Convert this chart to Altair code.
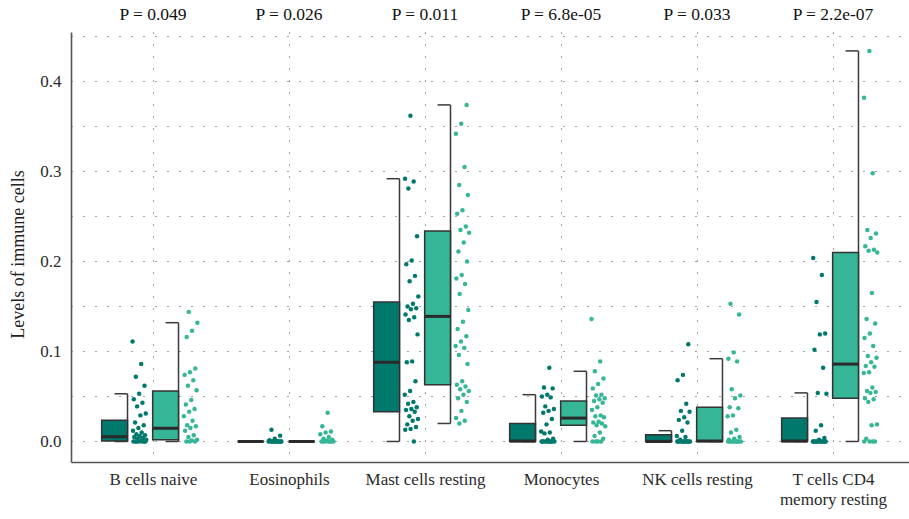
import altair as alt
import pandas as pd

categories = ["B cells naive", "Eosinophils", "Mast cells resting", "Monocytes",
              "NK cells resting", "T cells CD4 memory resting"]
label_lines = [["B cells naive"], ["Eosinophils"], ["Mast cells resting"], ["Monocytes"],
               ["NK cells resting"], ["T cells CD4", "memory resting"]]
p_labels = ["P = 0.049", "P = 0.026", "P = 0.011", "P = 6.8e-05", "P = 0.033", "P = 2.2e-07"]
groups = ["Low", "High"]
colors = ["#00786c", "#35b797"]

# box statistics
low_q1 = [0.0005, 0.0, 0.033, 0.0, 0.0, 0.0]
low_med = [0.0053, 0.0, 0.088, 0.0005, 0.0, 0.0005]
low_q3 = [0.0235, 0.0, 0.155, 0.020, 0.0076, 0.026]
low_wlo = [0.0, 0.0, 0.0, 0.0, 0.0, 0.0]
low_whi = [0.053, 0.0, 0.292, 0.052, 0.012, 0.054]

high_q1 = [0.002, 0.0, 0.063, 0.018, 0.0, 0.048]
high_med = [0.0147, 0.0, 0.139, 0.026, 0.0005, 0.086]
high_q3 = [0.056, 0.0, 0.234, 0.045, 0.038, 0.210]
high_wlo = [0.0, 0.0, 0.020, 0.0, 0.0, 0.0]
high_whi = [0.132, 0.0, 0.374, 0.078, 0.092, 0.434]

# individual observations
low_points = [
    [0.111, 0.086, 0.072, 0.062, 0.053, 0.047, 0.043, 0.039, 0.031, 0.029, 0.021, 0.018,
     0.015, 0.012, 0.010, 0.008, 0.007, 0.006, 0.005, 0.004, 0.003, 0.002, 0.001,
     0, 0, 0, 0, 0, 0, 0],
    [0.013, 0.0065, 0.003, 0.0015, 0, 0, 0, 0, 0, 0, 0, 0, 0, 0, 0, 0],
    [0.362, 0.292, 0.289, 0.281, 0.228, 0.201, 0.197, 0.184, 0.178, 0.161, 0.153, 0.150,
     0.148, 0.147, 0.141, 0.138, 0.135, 0.119, 0.089, 0.088, 0.067, 0.056, 0.052, 0.044,
     0.042, 0.038, 0.036, 0.035, 0.033, 0.028, 0.025, 0.023, 0.019, 0.016, 0.014, 0.013, 0.0],
    [0.082, 0.060, 0.059, 0.052, 0.050, 0.049, 0.039, 0.036, 0.034, 0.032, 0.025, 0.019,
     0.011, 0.010, 0.009, 0.003, 0.002, 0, 0, 0, 0, 0, 0, 0, 0, 0, 0],
    [0.108, 0.074, 0.068, 0.042, 0.034, 0.033, 0.027, 0.024, 0.021, 0.012, 0.006, 0.005,
     0.002, 0, 0, 0, 0, 0, 0, 0, 0, 0, 0, 0, 0],
    [0.204, 0.185, 0.155, 0.120, 0.119, 0.102, 0.082, 0.054, 0.053, 0.018, 0.012, 0.004,
     0.002, 0, 0, 0, 0, 0, 0, 0, 0, 0, 0, 0, 0],
]
high_points = [
    [0.144, 0.132, 0.123, 0.116, 0.081, 0.077, 0.074, 0.068, 0.062, 0.057, 0.046, 0.041,
     0.036, 0.033, 0.028, 0.023, 0.018, 0.017, 0.015, 0.012, 0.007, 0.005, 0.002, 0.001,
     0, 0, 0],
    [0.032, 0.017, 0.011, 0.010, 0.008, 0.005, 0.003, 0.002, 0.001, 0, 0, 0, 0, 0, 0, 0],
    [0.374, 0.353, 0.342, 0.305, 0.285, 0.274, 0.257, 0.253, 0.239, 0.235, 0.232, 0.221,
     0.211, 0.200, 0.185, 0.181, 0.175, 0.164, 0.146, 0.133, 0.125, 0.117, 0.111, 0.106,
     0.104, 0.096, 0.086, 0.067, 0.063, 0.061, 0.058, 0.056, 0.052, 0.048, 0.044, 0.034,
     0.026, 0.023, 0.020],
    [0.136, 0.089, 0.078, 0.070, 0.064, 0.059, 0.052, 0.051, 0.048, 0.047, 0.045, 0.043,
     0.038, 0.035, 0.029, 0.028, 0.027, 0.022, 0.021, 0.020, 0.018, 0.017, 0.010, 0.006,
     0.003, 0, 0, 0, 0],
    [0.153, 0.141, 0.099, 0.092, 0.089, 0.058, 0.051, 0.048, 0.038, 0.037, 0.029, 0.028,
     0.013, 0.010, 0.005, 0.003, 0.002, 0, 0, 0, 0, 0, 0, 0, 0, 0],
    [0.434, 0.382, 0.298, 0.235, 0.231, 0.226, 0.217, 0.213, 0.212, 0.210, 0.165, 0.136,
     0.131, 0.120, 0.115, 0.106, 0.095, 0.093, 0.088, 0.084, 0.083, 0.077, 0.076, 0.060,
     0.056, 0.055, 0.054, 0.048, 0.047, 0.044, 0.019, 0.018, 0.003, 0, 0, 0, 0],
]

# layout in category units (category i sits at x = i + 1)
DODGE = 0.1875
BOXW = 0.19
JIT0, JITW = 0.037, 0.103

stats_rows, point_rows = [], []
group_stats = [
    (low_q1, low_med, low_q3, low_wlo, low_whi, low_points),
    (high_q1, high_med, high_q3, high_wlo, high_whi, high_points),
]
for g, (q1, med, q3, wlo, whi, pts) in enumerate(group_stats):
    off = -DODGE if g == 0 else DODGE
    for i, cat in enumerate(categories):
        c = i + 1 + off
        stats_rows.append(dict(group=groups[g], category=cat, center=c,
                               bx0=c - BOXW, bx1=c, tx0=c - BOXW / 2,
                               q1=q1[i], med=med[i], q3=q3[i], wlo=wlo[i], whi=whi[i]))
        for k, v in enumerate(pts[i]):
            f = (k * 0.6180339887 + 0.37 * g + 0.21 * i) % 1.0
            point_rows.append(dict(group=groups[g], category=cat, value=v,
                                   x=c + JIT0 + f * JITW))

stats = pd.DataFrame(stats_rows)
points = pd.DataFrame(point_rows)
plabels = pd.DataFrame({"pos": list(range(1, len(categories) + 1)), "label": p_labels})

FONT = "Liberation Serif"

def js_label(lines):
    if len(lines) == 1:
        return "'" + lines[0] + "'"
    return "[" + ", ".join("'" + s + "'" for s in lines) + "]"

label_expr = ""
for i, lines in enumerate(label_lines):
    label_expr += f"datum.value == {i + 1} ? {js_label(lines)} : "
label_expr += "''"

xscale = alt.Scale(domain=[0.397, 6.559], nice=False, zero=False)
yscale = alt.Scale(domain=[-0.0228, 0.455], nice=False, zero=False)

xaxis = alt.Axis(values=list(range(1, 7)), labelExpr=label_expr, title=None,
                 grid=True, gridDash=[1, 11], gridColor="#444", gridWidth=1,
                 ticks=False, domainColor="#555", domainWidth=1.6,
                 labelFont=FONT, labelFontSize=17, labelColor="#2a2a2a",
                 labelPadding=9, labelLineHeight=20, labelAngle=0)
yvals = [round(0.05 * k, 2) for k in range(10)]
yaxis = alt.Axis(values=yvals,
                 labelExpr="(round(datum.value*100) % 10 == 0) ? format(datum.value, '.1f') : ''",
                 title="Levels of immune cells", titleFont=FONT, titleFontSize=18,
                 titleFontWeight="normal", titleColor="#222", titleX=-53, titleY=222,
                 titleAngle=-90, titleBaseline="middle", titleAlign="center",
                 grid=True, gridDash=[1, 11], gridColor="#444", gridWidth=1,
                 ticks=False, domainColor="#555", domainWidth=1.6,
                 labelFont=FONT, labelFontSize=17, labelColor="#2a2a2a", labelPadding=10)

color = alt.Color("group:N", scale=alt.Scale(domain=groups, range=colors), legend=None)

base = alt.Chart(stats)

whisker = base.mark_rule(color="#3a3a3a", strokeWidth=1.5).encode(
    x=alt.X("center:Q", scale=xscale, axis=xaxis),
    y=alt.Y("wlo:Q", scale=yscale, axis=yaxis), y2="whi:Q")
tick_lo = base.mark_rule(color="#3a3a3a", strokeWidth=1.5).encode(
    x=alt.X("tx0:Q", scale=xscale, axis=xaxis), x2="center:Q",
    y=alt.Y("wlo:Q", scale=yscale, axis=yaxis))
tick_hi = base.mark_rule(color="#3a3a3a", strokeWidth=1.5).encode(
    x=alt.X("tx0:Q", scale=xscale, axis=xaxis), x2="center:Q",
    y=alt.Y("whi:Q", scale=yscale, axis=yaxis))
box = base.mark_rect(stroke="#333", strokeWidth=1.5).encode(
    x=alt.X("bx0:Q", scale=xscale, axis=xaxis), x2="bx1:Q",
    y=alt.Y("q1:Q", scale=yscale, axis=yaxis), y2="q3:Q", color=color)
median = base.mark_rule(color="#2a2a2a", strokeWidth=3).encode(
    x=alt.X("bx0:Q", scale=xscale, axis=xaxis), x2="bx1:Q",
    y=alt.Y("med:Q", scale=yscale, axis=yaxis))
dots = alt.Chart(points).mark_circle(size=20, opacity=1).encode(
    x=alt.X("x:Q", scale=xscale, axis=xaxis),
    y=alt.Y("value:Q", scale=yscale, axis=yaxis), color=color)
ptext = alt.Chart(plabels).mark_text(font=FONT, fontSize=17.5, color="#111",
                                     baseline="middle", align="center").encode(
    x=alt.X("pos:Q", scale=xscale, axis=xaxis), y=alt.value(-17), text="label:N")

chart = alt.layer(whisker, tick_lo, tick_hi, box, median, dots, ptext).properties(
    width=838, height=430,
    autosize=alt.AutoSizeParams(type="none"),
    padding={"left": 71, "top": 32, "right": 0, "bottom": 57},
    background="white",
).configure_view(stroke=None)

chart.save("out.html", embed_options={"renderer": "svg", "actions": False})
